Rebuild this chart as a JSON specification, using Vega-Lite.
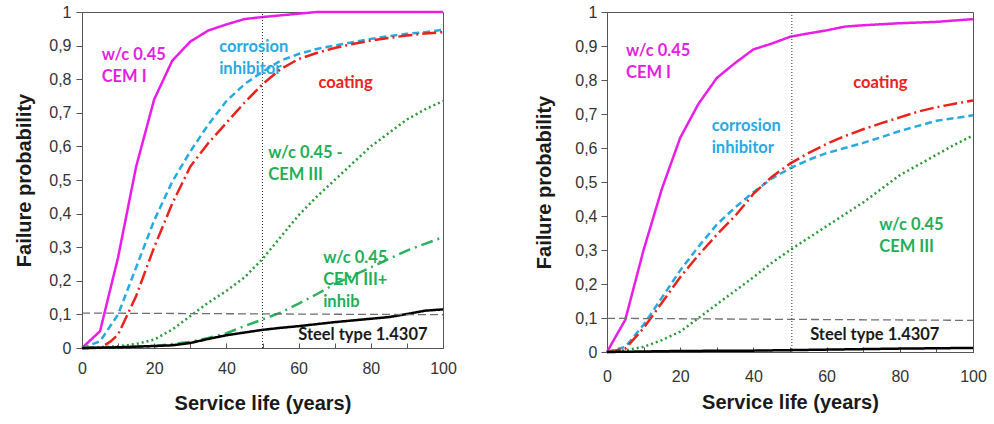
{
  "$schema": "https://vega.github.io/schema/vega-lite/v6.json",
  "background": "white",
  "padding": {"left": 14, "top": 3, "right": 5, "bottom": 5},
  "spacing": 77,
  "config": {
    "view": {"stroke": "#555", "strokeWidth": 1},
    "axis": {
      "grid": false,
      "domainColor": "#555",
      "tickColor": "#555",
      "labelFont": "Liberation Sans",
      "labelFontSize": 16,
      "labelColor": "#333",
      "titleFont": "Liberation Sans",
      "titleFontSize": 20,
      "titleFontWeight": "bold",
      "titleColor": "#1a1a1a",
      "labelFlush": false,
      "labelOverlap": false,
      "labelBound": false
    }
  },
  "datasets": {
    "curves": [
      {"p":"L","s":"CEM I","x":0,"y":0},{"p":"L","s":"CEM I","x":5,"y":0.05},{"p":"L","s":"CEM I","x":10,"y":0.27},{"p":"L","s":"CEM I","x":15,"y":0.54},{"p":"L","s":"CEM I","x":20,"y":0.74},{"p":"L","s":"CEM I","x":25,"y":0.855},{"p":"L","s":"CEM I","x":30,"y":0.912},{"p":"L","s":"CEM I","x":35,"y":0.945},{"p":"L","s":"CEM I","x":40,"y":0.963},{"p":"L","s":"CEM I","x":45,"y":0.979},{"p":"L","s":"CEM I","x":50,"y":0.985},{"p":"L","s":"CEM I","x":55,"y":0.99},{"p":"L","s":"CEM I","x":60,"y":0.995},{"p":"L","s":"CEM I","x":65,"y":1},{"p":"L","s":"CEM I","x":100,"y":1},
      {"p":"L","s":"inhibitor","x":0,"y":0},{"p":"L","s":"inhibitor","x":5,"y":0.02},{"p":"L","s":"inhibitor","x":10,"y":0.1},{"p":"L","s":"inhibitor","x":15,"y":0.24},{"p":"L","s":"inhibitor","x":20,"y":0.38},{"p":"L","s":"inhibitor","x":25,"y":0.495},{"p":"L","s":"inhibitor","x":30,"y":0.585},{"p":"L","s":"inhibitor","x":35,"y":0.665},{"p":"L","s":"inhibitor","x":40,"y":0.735},{"p":"L","s":"inhibitor","x":45,"y":0.785},{"p":"L","s":"inhibitor","x":50,"y":0.822},{"p":"L","s":"inhibitor","x":55,"y":0.855},{"p":"L","s":"inhibitor","x":60,"y":0.875},{"p":"L","s":"inhibitor","x":65,"y":0.89},{"p":"L","s":"inhibitor","x":70,"y":0.9},{"p":"L","s":"inhibitor","x":75,"y":0.91},{"p":"L","s":"inhibitor","x":80,"y":0.92},{"p":"L","s":"inhibitor","x":85,"y":0.928},{"p":"L","s":"inhibitor","x":90,"y":0.935},{"p":"L","s":"inhibitor","x":95,"y":0.94},{"p":"L","s":"inhibitor","x":100,"y":0.947},
      {"p":"L","s":"coating","x":0,"y":0},{"p":"L","s":"coating","x":5,"y":0},{"p":"L","s":"coating","x":8,"y":0.02},{"p":"L","s":"coating","x":10,"y":0.04},{"p":"L","s":"coating","x":15,"y":0.155},{"p":"L","s":"coating","x":20,"y":0.3},{"p":"L","s":"coating","x":25,"y":0.43},{"p":"L","s":"coating","x":30,"y":0.54},{"p":"L","s":"coating","x":35,"y":0.61},{"p":"L","s":"coating","x":40,"y":0.67},{"p":"L","s":"coating","x":45,"y":0.73},{"p":"L","s":"coating","x":50,"y":0.785},{"p":"L","s":"coating","x":55,"y":0.83},{"p":"L","s":"coating","x":60,"y":0.86},{"p":"L","s":"coating","x":65,"y":0.878},{"p":"L","s":"coating","x":70,"y":0.893},{"p":"L","s":"coating","x":75,"y":0.905},{"p":"L","s":"coating","x":80,"y":0.915},{"p":"L","s":"coating","x":85,"y":0.923},{"p":"L","s":"coating","x":90,"y":0.93},{"p":"L","s":"coating","x":95,"y":0.936},{"p":"L","s":"coating","x":100,"y":0.94},
      {"p":"L","s":"CEM III","x":0,"y":0},{"p":"L","s":"CEM III","x":10,"y":0.005},{"p":"L","s":"CEM III","x":15,"y":0.012},{"p":"L","s":"CEM III","x":20,"y":0.025},{"p":"L","s":"CEM III","x":25,"y":0.055},{"p":"L","s":"CEM III","x":30,"y":0.095},{"p":"L","s":"CEM III","x":35,"y":0.135},{"p":"L","s":"CEM III","x":40,"y":0.17},{"p":"L","s":"CEM III","x":45,"y":0.21},{"p":"L","s":"CEM III","x":50,"y":0.265},{"p":"L","s":"CEM III","x":55,"y":0.33},{"p":"L","s":"CEM III","x":60,"y":0.395},{"p":"L","s":"CEM III","x":65,"y":0.45},{"p":"L","s":"CEM III","x":70,"y":0.5},{"p":"L","s":"CEM III","x":75,"y":0.55},{"p":"L","s":"CEM III","x":80,"y":0.6},{"p":"L","s":"CEM III","x":85,"y":0.64},{"p":"L","s":"CEM III","x":90,"y":0.68},{"p":"L","s":"CEM III","x":95,"y":0.71},{"p":"L","s":"CEM III","x":100,"y":0.735},
      {"p":"L","s":"CEM III+inhib","x":0,"y":0},{"p":"L","s":"CEM III+inhib","x":20,"y":0.005},{"p":"L","s":"CEM III+inhib","x":25,"y":0.012},{"p":"L","s":"CEM III+inhib","x":30,"y":0.018},{"p":"L","s":"CEM III+inhib","x":35,"y":0.03},{"p":"L","s":"CEM III+inhib","x":40,"y":0.044},{"p":"L","s":"CEM III+inhib","x":45,"y":0.065},{"p":"L","s":"CEM III+inhib","x":50,"y":0.085},{"p":"L","s":"CEM III+inhib","x":55,"y":0.105},{"p":"L","s":"CEM III+inhib","x":60,"y":0.132},{"p":"L","s":"CEM III+inhib","x":65,"y":0.16},{"p":"L","s":"CEM III+inhib","x":70,"y":0.19},{"p":"L","s":"CEM III+inhib","x":75,"y":0.215},{"p":"L","s":"CEM III+inhib","x":80,"y":0.24},{"p":"L","s":"CEM III+inhib","x":85,"y":0.265},{"p":"L","s":"CEM III+inhib","x":90,"y":0.29},{"p":"L","s":"CEM III+inhib","x":95,"y":0.31},{"p":"L","s":"CEM III+inhib","x":100,"y":0.33},
      {"p":"L","s":"steel","x":0,"y":0},{"p":"L","s":"steel","x":10,"y":0.002},{"p":"L","s":"steel","x":20,"y":0.006},{"p":"L","s":"steel","x":25,"y":0.008},{"p":"L","s":"steel","x":30,"y":0.015},{"p":"L","s":"steel","x":35,"y":0.027},{"p":"L","s":"steel","x":40,"y":0.038},{"p":"L","s":"steel","x":45,"y":0.046},{"p":"L","s":"steel","x":50,"y":0.054},{"p":"L","s":"steel","x":55,"y":0.06},{"p":"L","s":"steel","x":60,"y":0.065},{"p":"L","s":"steel","x":65,"y":0.071},{"p":"L","s":"steel","x":70,"y":0.077},{"p":"L","s":"steel","x":75,"y":0.082},{"p":"L","s":"steel","x":80,"y":0.087},{"p":"L","s":"steel","x":85,"y":0.092},{"p":"L","s":"steel","x":90,"y":0.101},{"p":"L","s":"steel","x":95,"y":0.111},{"p":"L","s":"steel","x":100,"y":0.115},

      {"p":"R","s":"CEM I","x":0,"y":0},{"p":"R","s":"CEM I","x":5,"y":0.095},{"p":"R","s":"CEM I","x":10,"y":0.3},{"p":"R","s":"CEM I","x":15,"y":0.48},{"p":"R","s":"CEM I","x":20,"y":0.63},{"p":"R","s":"CEM I","x":25,"y":0.73},{"p":"R","s":"CEM I","x":30,"y":0.806},{"p":"R","s":"CEM I","x":35,"y":0.85},{"p":"R","s":"CEM I","x":40,"y":0.89},{"p":"R","s":"CEM I","x":45,"y":0.907},{"p":"R","s":"CEM I","x":50,"y":0.927},{"p":"R","s":"CEM I","x":55,"y":0.937},{"p":"R","s":"CEM I","x":60,"y":0.946},{"p":"R","s":"CEM I","x":65,"y":0.957},{"p":"R","s":"CEM I","x":70,"y":0.961},{"p":"R","s":"CEM I","x":80,"y":0.967},{"p":"R","s":"CEM I","x":90,"y":0.971},{"p":"R","s":"CEM I","x":100,"y":0.979},
      {"p":"R","s":"inhibitor","x":0,"y":0},{"p":"R","s":"inhibitor","x":5,"y":0.015},{"p":"R","s":"inhibitor","x":10,"y":0.08},{"p":"R","s":"inhibitor","x":15,"y":0.16},{"p":"R","s":"inhibitor","x":20,"y":0.24},{"p":"R","s":"inhibitor","x":25,"y":0.31},{"p":"R","s":"inhibitor","x":30,"y":0.375},{"p":"R","s":"inhibitor","x":35,"y":0.425},{"p":"R","s":"inhibitor","x":40,"y":0.47},{"p":"R","s":"inhibitor","x":45,"y":0.51},{"p":"R","s":"inhibitor","x":50,"y":0.54},{"p":"R","s":"inhibitor","x":55,"y":0.565},{"p":"R","s":"inhibitor","x":60,"y":0.585},{"p":"R","s":"inhibitor","x":65,"y":0.6},{"p":"R","s":"inhibitor","x":70,"y":0.615},{"p":"R","s":"inhibitor","x":75,"y":0.632},{"p":"R","s":"inhibitor","x":80,"y":0.65},{"p":"R","s":"inhibitor","x":85,"y":0.665},{"p":"R","s":"inhibitor","x":90,"y":0.68},{"p":"R","s":"inhibitor","x":95,"y":0.688},{"p":"R","s":"inhibitor","x":100,"y":0.696},
      {"p":"R","s":"coating","x":0,"y":0},{"p":"R","s":"coating","x":5,"y":0.01},{"p":"R","s":"coating","x":10,"y":0.07},{"p":"R","s":"coating","x":15,"y":0.145},{"p":"R","s":"coating","x":20,"y":0.22},{"p":"R","s":"coating","x":25,"y":0.285},{"p":"R","s":"coating","x":30,"y":0.345},{"p":"R","s":"coating","x":35,"y":0.4},{"p":"R","s":"coating","x":40,"y":0.465},{"p":"R","s":"coating","x":45,"y":0.515},{"p":"R","s":"coating","x":50,"y":0.554},{"p":"R","s":"coating","x":55,"y":0.585},{"p":"R","s":"coating","x":60,"y":0.612},{"p":"R","s":"coating","x":65,"y":0.635},{"p":"R","s":"coating","x":70,"y":0.655},{"p":"R","s":"coating","x":75,"y":0.673},{"p":"R","s":"coating","x":80,"y":0.69},{"p":"R","s":"coating","x":85,"y":0.707},{"p":"R","s":"coating","x":90,"y":0.72},{"p":"R","s":"coating","x":95,"y":0.73},{"p":"R","s":"coating","x":100,"y":0.74},
      {"p":"R","s":"CEM III","x":0,"y":0},{"p":"R","s":"CEM III","x":5,"y":0.005},{"p":"R","s":"CEM III","x":10,"y":0.015},{"p":"R","s":"CEM III","x":15,"y":0.035},{"p":"R","s":"CEM III","x":20,"y":0.06},{"p":"R","s":"CEM III","x":25,"y":0.1},{"p":"R","s":"CEM III","x":30,"y":0.14},{"p":"R","s":"CEM III","x":35,"y":0.18},{"p":"R","s":"CEM III","x":40,"y":0.22},{"p":"R","s":"CEM III","x":45,"y":0.262},{"p":"R","s":"CEM III","x":50,"y":0.3},{"p":"R","s":"CEM III","x":55,"y":0.335},{"p":"R","s":"CEM III","x":60,"y":0.37},{"p":"R","s":"CEM III","x":65,"y":0.405},{"p":"R","s":"CEM III","x":70,"y":0.44},{"p":"R","s":"CEM III","x":75,"y":0.48},{"p":"R","s":"CEM III","x":80,"y":0.52},{"p":"R","s":"CEM III","x":85,"y":0.55},{"p":"R","s":"CEM III","x":90,"y":0.58},{"p":"R","s":"CEM III","x":95,"y":0.61},{"p":"R","s":"CEM III","x":100,"y":0.637},
      {"p":"R","s":"steel","x":0,"y":0},{"p":"R","s":"steel","x":20,"y":0.003},{"p":"R","s":"steel","x":40,"y":0.004},{"p":"R","s":"steel","x":60,"y":0.007},{"p":"R","s":"steel","x":80,"y":0.01},{"p":"R","s":"steel","x":100,"y":0.012}
    ],
    "refs": [
      {"p":"L","k":"h","x":0,"y":0.104},{"p":"L","k":"h","x":100,"y":0.099},
      {"p":"L","k":"v","x":50,"y":0},{"p":"L","k":"v","x":50,"y":1},
      {"p":"R","k":"h","x":0,"y":0.099},{"p":"R","k":"h","x":100,"y":0.093},
      {"p":"R","k":"v","x":50.5,"y":0},{"p":"R","k":"v","x":50.5,"y":1}
    ],
    "labels": [
      {"p":"L","s":"CEM I","x":5.45,"y":0.871,"t":"w/c 0.45\nCEM I"},
      {"p":"L","s":"inhibitor","x":38,"y":0.897,"t":"corrosion\ninhibitor"},
      {"p":"L","s":"coating","x":65.5,"y":0.79,"t":"coating"},
      {"p":"L","s":"CEM III","x":51.6,"y":0.58,"t":"w/c 0.45 -\nCEM III"},
      {"p":"L","s":"CEM III+inhib","x":66.8,"y":0.268,"t":"w/c 0.45\nCEM III+\ninhib"},
      {"p":"L","s":"steel","x":59.9,"y":0.039,"t":"Steel type 1.4307"},
      {"p":"R","s":"CEM I","x":5.2,"y":0.884,"t":"w/c 0.45\nCEM I"},
      {"p":"R","s":"coating","x":67.3,"y":0.791,"t":"coating"},
      {"p":"R","s":"inhibitor","x":28.6,"y":0.664,"t":"corrosion\ninhibitor"},
      {"p":"R","s":"CEM III","x":74.4,"y":0.375,"t":"w/c 0.45\nCEM III"},
      {"p":"R","s":"steel","x":55.5,"y":0.051,"t":"Steel type 1.4307"}
    ]
  },
  "hconcat": [
    {
      "width": 361,
      "height": 336,
      "resolve": {"scale": {"color": "independent"}},
      "layer": [
        {
          "data": {"name": "curves"},
          "transform": [{"filter": "datum.p == 'L'"}],
          "mark": {"type": "line", "strokeCap": "butt"},
          "encoding": {
            "x": {"field": "x", "type": "quantitative", "scale": {"domain": [0, 100], "nice": false},
              "axis": {"tickCount": 10, "labelExpr": "datum.value % 20 == 0 ? datum.label : ''", "labelOverlap": false, "tickSize": -5, "labelPadding": 17, "title": "Service life (years)", "titlePadding": 17}},
            "y": {"field": "y", "type": "quantitative", "scale": {"domain": [0, 1], "nice": false},
              "axis": {"tickCount": 10, "labelExpr": "replace(format(datum.value, '.1~f'), '.', ',')", "labelOverlap": false, "tickSize": 6, "labelPadding": 5, "title": "Failure probability", "titlePadding": 14}},
            "color": {"field": "s", "type": "nominal", "legend": null,
              "scale": {"domain": ["CEM I","inhibitor","coating","CEM III","CEM III+inhib","steel"], "range": ["#E81EE8","#29A9E1","#E8231B","#2A9A35","#2DB060","#000000"]}},
            "strokeDash": {"field": "s", "type": "nominal", "legend": null,
              "scale": {"domain": ["CEM I","inhibitor","coating","CEM III","CEM III+inhib","steel"], "range": [[1,0],[7,4],[14,4,2,4],[2,3],[12,5,2,5],[1,0]]}},
            "strokeWidth": {"field": "s", "type": "ordinal", "legend": null,
              "scale": {"domain": ["CEM I","inhibitor","coating","CEM III","CEM III+inhib","steel"], "range": [2.5,2.5,2.5,2.2,1.2,2.5]}}
          }
        },
        {
          "data": {"name": "refs"},
          "transform": [{"filter": "datum.p == 'L' && datum.k == 'h'"}],
          "mark": {"type": "line", "color": "#6f6f6f", "strokeWidth": 1.3, "strokeDash": [8, 4]},
          "encoding": {"x": {"field": "x", "type": "quantitative"}, "y": {"field": "y", "type": "quantitative"}}
        },
        {
          "data": {"name": "refs"},
          "transform": [{"filter": "datum.p == 'L' && datum.k == 'v'"}],
          "mark": {"type": "line", "color": "#333", "strokeWidth": 1, "strokeDash": [1, 2]},
          "encoding": {"x": {"field": "x", "type": "quantitative"}, "y": {"field": "y", "type": "quantitative"}}
        },
        {
          "data": {"name": "labels"},
          "transform": [{"filter": "datum.p == 'L'"}],
          "mark": {"type": "text", "align": "left", "baseline": "middle", "font": "Lato", "fontWeight": "bold", "fontSize": 16.5, "lineBreak": "\n", "lineHeight": 22},
          "encoding": {
            "x": {"field": "x", "type": "quantitative"},
            "y": {"field": "y", "type": "quantitative"},
            "text": {"field": "t"},
            "color": {"field": "s", "type": "nominal", "legend": null,
              "scale": {"domain": ["CEM I","inhibitor","coating","CEM III","CEM III+inhib","steel"], "range": ["#E21FE2","#29A9E1","#E8231B","#1EAF58","#1EAF58","#1a1a1a"]}}
          }
        }
      ]
    },
    {
      "width": 366,
      "height": 340,
      "resolve": {"scale": {"color": "independent"}},
      "layer": [
        {
          "data": {"name": "curves"},
          "transform": [{"filter": "datum.p == 'R'"}],
          "mark": {"type": "line", "strokeCap": "butt"},
          "encoding": {
            "x": {"field": "x", "type": "quantitative", "scale": {"domain": [0, 100], "nice": false},
              "axis": {"tickCount": 10, "labelExpr": "datum.value % 20 == 0 ? datum.label : ''", "labelOverlap": false, "tickSize": -5, "labelPadding": 21, "title": "Service life (years)", "titlePadding": 8}},
            "y": {"field": "y", "type": "quantitative", "scale": {"domain": [0, 1], "nice": false},
              "axis": {"tickCount": 10, "labelExpr": "replace(format(datum.value, '.1~f'), '.', ',')", "labelOverlap": false, "tickSize": 6, "labelPadding": 4, "title": "Failure probability", "titlePadding": 20}},
            "color": {"field": "s", "type": "nominal", "legend": null,
              "scale": {"domain": ["CEM I","inhibitor","coating","CEM III","steel"], "range": ["#E81EE8","#29A9E1","#E8231B","#2A9A35","#000000"]}},
            "strokeDash": {"field": "s", "type": "nominal", "legend": null,
              "scale": {"domain": ["CEM I","inhibitor","coating","CEM III","steel"], "range": [[1,0],[7,4],[14,4,2,4],[2,3],[1,0]]}},
            "strokeWidth": {"field": "s", "type": "ordinal", "legend": null,
              "scale": {"domain": ["CEM I","inhibitor","coating","CEM III","steel"], "range": [2.5,2.5,2.5,2.2,3.5]}}
          }
        },
        {
          "data": {"name": "refs"},
          "transform": [{"filter": "datum.p == 'R' && datum.k == 'h'"}],
          "mark": {"type": "line", "color": "#6f6f6f", "strokeWidth": 1.3, "strokeDash": [8, 4]},
          "encoding": {"x": {"field": "x", "type": "quantitative"}, "y": {"field": "y", "type": "quantitative"}}
        },
        {
          "data": {"name": "refs"},
          "transform": [{"filter": "datum.p == 'R' && datum.k == 'v'"}],
          "mark": {"type": "line", "color": "#333", "strokeWidth": 1, "strokeDash": [1, 2]},
          "encoding": {"x": {"field": "x", "type": "quantitative"}, "y": {"field": "y", "type": "quantitative"}}
        },
        {
          "data": {"name": "labels"},
          "transform": [{"filter": "datum.p == 'R'"}],
          "mark": {"type": "text", "align": "left", "baseline": "middle", "font": "Lato", "fontWeight": "bold", "fontSize": 16.5, "lineBreak": "\n", "lineHeight": 22},
          "encoding": {
            "x": {"field": "x", "type": "quantitative"},
            "y": {"field": "y", "type": "quantitative"},
            "text": {"field": "t"},
            "color": {"field": "s", "type": "nominal", "legend": null,
              "scale": {"domain": ["CEM I","inhibitor","coating","CEM III","steel"], "range": ["#E21FE2","#29A9E1","#E8231B","#1EAF58","#1a1a1a"]}}
          }
        }
      ]
    }
  ]
}
